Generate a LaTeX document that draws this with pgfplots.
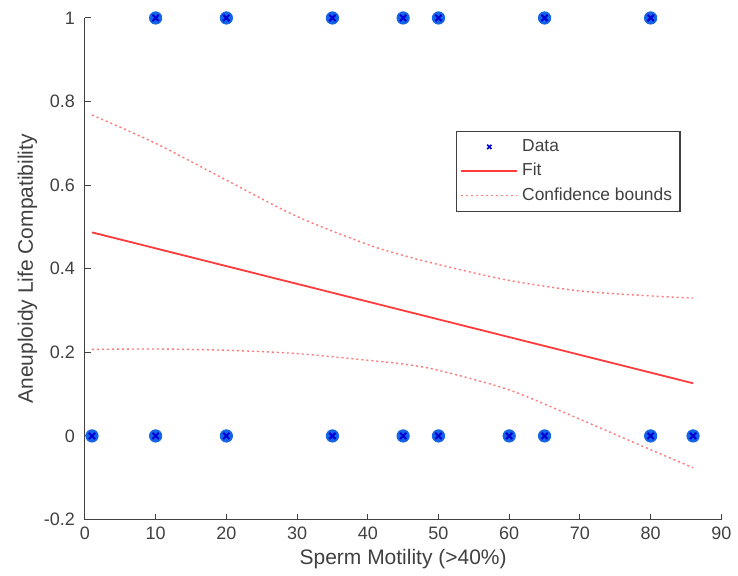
\documentclass[border=0pt]{standalone}
\usepackage{pgfplots}
\pgfplotsset{compat=1.18}
\usepackage{fontspec}
\setmainfont{Liberation Sans}
\definecolor{axgray}{RGB}{64,64,64}
\definecolor{fitred}{RGB}{255,60,60}
\definecolor{dotblue}{RGB}{20,100,230}
\definecolor{xblue}{RGB}{0,0,210}
\pgfplotsset{longline/.style={legend image code/.code={\draw[##1] (0pt,0pt) -- (28pt,0pt);}}}
\begin{document}
\begin{tikzpicture}
\begin{axis}[
  name=ax,
  scale only axis,
  width=318.5pt, height=251pt,
  xmin=0, xmax=90, ymin=-0.2, ymax=1,
  xtick={0,10,...,90},
  ytick={-0.2,0,0.2,0.4,0.6,0.8,1},
  yticklabels={-0.2,0,0.2,0.4,0.6,0.8,1},
  axis x line*=bottom, axis y line*=left,
  axis line style={axgray, line width=0.5pt, -},
  tick align=inside,
  major tick length=3pt,
  tick style={axgray, line width=0.5pt},
  every tick label/.append style={font=\fontsize{9}{10}\selectfont, text=axgray},
  yticklabel style={xshift=-1.5pt},
  /pgf/number format/assume math mode=true,
  xlabel={Sperm Motility (>40\%)},
  ylabel={Aneuploidy Life Compatibility},
  label style={font=\fontsize{10.5}{12}\selectfont, text=axgray},
  xlabel style={yshift=2pt},
  ylabel style={yshift=-3.5pt},
  legend style={at={(rel axis cs:0.936,0.775)}, anchor=north east,
    draw=axgray, line width=0.6pt, font=\fontsize{8.7}{10}\selectfont, text=axgray,
    inner sep=2pt, row sep=0.5pt},
  legend cell align=left,
  longline,
  clip=false,
]
\addlegendimage{legend image code/.code={\draw[mark=x, mark size=1.5pt, xblue, line width=0.8pt] plot coordinates {(14pt,0pt)};}}
\addlegendentry{Data}
% fit
\addplot[fitred, line width=0.9pt] coordinates {(1,0.487) (86,0.126)};
\addlegendentry{Fit}
% confidence bounds
\addplot[fitred!70, line width=0.7pt, dash pattern=on 1pt off 1.5pt, smooth] coordinates {
(1,0.768) (10,0.700) (20,0.612) (30,0.525) (40,0.458) (45,0.432) (50,0.410) (60,0.372) (70,0.347) (80,0.335) (86,0.330)};
\addlegendentry{Confidence bounds}
\addplot[fitred!70, line width=0.7pt, dash pattern=on 1pt off 1.5pt, smooth, forget plot] coordinates {
(1,0.207) (10,0.208) (20,0.205) (30,0.197) (40,0.181) (45,0.172) (50,0.157) (60,0.110) (70,0.040) (80,-0.033) (86,-0.076)};
% data
\addplot[only marks, mark=*, mark size=3.1pt, dotblue, forget plot] coordinates {
(10,1) (20,1) (35,1) (45,1) (50,1) (65,1) (80,1)
(1,0) (10,0) (20,0) (35,0) (45,0) (50,0) (60,0) (65,0) (80,0) (86,0)};
\addplot[only marks, mark=x, mark size=2.2pt, xblue, line width=1pt, forget plot] coordinates {
(10,1) (20,1) (35,1) (45,1) (50,1) (65,1) (80,1)
(1,0) (10,0) (20,0) (35,0) (45,0) (50,0) (60,0) (65,0) (80,0) (86,0)};
\end{axis}
\path (ax.north west) ++(0,9pt);
\path (ax.west) ++(-42.5pt,0);
\path (ax.east) ++(8pt,0);
\end{tikzpicture}
\end{document}
